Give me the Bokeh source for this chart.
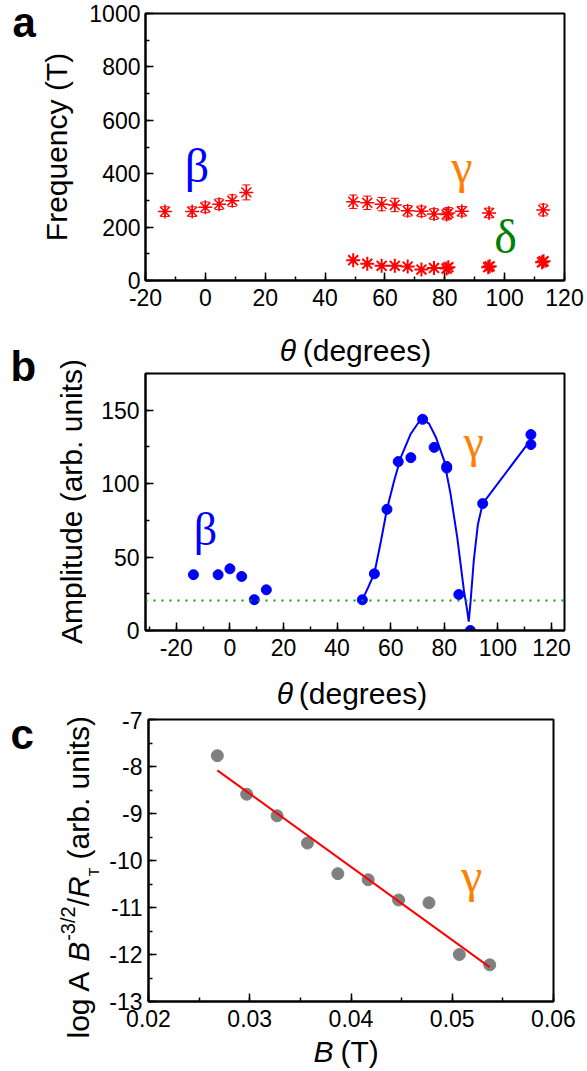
import numpy as np
from bokeh.plotting import figure
from bokeh.layouts import column, row
from bokeh.models import (Label, Range1d, SingleIntervalTicker, PrintfTickFormatter,
                          Whisker, ColumnDataSource, Span)
from bokeh.core.properties import value
from bokeh.embed import file_html
from bokeh.resources import INLINE

# ---------------- data ----------------
# panel a: frequencies vs angle
beta_theta = [-13.5, -4.4, 0.0, 4.6, 9.0, 13.7]
beta_freq = [258, 258, 274, 286, 299, 330]
beta_err = [18, 18, 20, 20, 22, 28]

gamma_theta = [49.4, 54.1, 58.9, 63.3, 67.6, 72.2, 76.4, 80.6, 81.2, 85.7, 94.8, 112.9]
gamma_freq = [295, 291, 286, 283, 261, 259, 249, 247, 253, 259, 253, 264]
gamma_err = [25, 25, 25, 25, 20, 20, 20, 20, 20, 18, 18, 22]

delta_theta = [49.4, 54.1, 58.9, 63.3, 67.6, 72.2, 76.4, 80.6, 81.2, 94.5, 95.0, 112.5, 113.0]
delta_freq = [76, 63, 55, 55, 52, 41, 47, 45, 50, 50, 53, 68, 72]

# panel b: amplitudes vs angle
amp_beta_theta = [-13.6, -4.4, 0.0, 4.4, 9.1, 13.6]
amp_beta = [38, 38, 42, 36.8, 21, 27.7]
amp_gamma_theta = [49.4, 53.9, 58.6, 62.8, 67.5, 71.9, 76.2, 80.9, 80.9, 85.4, 89.7, 94.3, 112.3, 112.3]
amp_gamma = [20.9, 38.6, 82.5, 115, 117.7, 143.8, 124.7, 111.7, 110.6, 24.5, 0, 86.4, 133.4, 126.6]
# guide curve through the gamma amplitudes
curve_theta = [49.4, 51.5, 53.9, 56.4, 58.6, 61.3, 63.8, 67.5, 70.5, 72.0, 74.3, 76.8,
               79.9, 82.3, 84.8, 87.3, 88.5, 89.1, 89.8, 91.0, 92.5, 94.3, 112.3]
curve_amp = [20.9, 29, 39, 61.3, 82.7, 102.2, 118, 134, 142, 143.5, 140.9, 131.8,
             115.9, 93.2, 63.6, 27.3, 14, 6, 20, 48, 72, 86.4, 130]
noise_level = 20.5

# panel c: log amplitude vs field
field_B = [0.0268, 0.0297, 0.0327, 0.0357, 0.0387, 0.0417, 0.0447, 0.0477, 0.0507, 0.0537]
log_amp = [-7.77, -8.59, -9.05, -9.63, -10.28, -10.41, -10.84, -10.90, -12.00, -12.22]

# ---------------- styling helpers ----------------
SANS = "Liberation Sans"
SERIF = "Liberation Serif"
TICK_PX = "23px"
LAB_PX = "30px"


def make_fig(w, h, xr, yr, bl, br, bt, bb):
    p = figure(width=w, height=h, x_range=Range1d(*xr), y_range=Range1d(*yr),
               output_backend="svg", toolbar_location=None, title=None,
               min_border_left=bl, min_border_right=br,
               min_border_top=bt, min_border_bottom=bb)
    p.xgrid.visible = False
    p.ygrid.visible = False
    p.outline_line_color = "black"
    p.outline_line_width = 2
    p.outline_line_alpha = 1
    p.background_fill_color = "white"
    p.border_fill_color = "white"
    for ax in (p.xaxis[0], p.yaxis[0]):
        ax.axis_line_width = 2
        ax.major_tick_in = 8
        ax.major_tick_out = 0
        ax.minor_tick_in = 4
        ax.minor_tick_out = 0
        ax.major_tick_line_width = 1.5
        ax.minor_tick_line_width = 1.5
        ax.major_label_text_font = SANS
        ax.major_label_text_font_size = TICK_PX
        ax.major_label_text_color = "black"
    p.yaxis[0].major_label_standoff = 6
    p.xaxis[0].major_label_standoff = 8
    return p


def greek(p, x, y, ch, size, color):
    p.text(x=[x], y=[y], text=[ch], text_font=value(SERIF), text_font_size=size,
           text_color=color, text_align="center", text_baseline="middle")


class Strip:
    """Axis-less figure holding texts that sit outside the plot frames.
    Its ranges are page pixels, so a text is placed at its page position
    (vertical centre of the text line)."""

    def __init__(self, page_left, page_top, w, h, bl=0, br=0):
        p = figure(width=w, height=h,
                   x_range=Range1d(page_left + bl, page_left + w - br),
                   y_range=Range1d(page_top + h, page_top),
                   output_backend="svg", toolbar_location=None, title=None,
                   x_axis_location=None, y_axis_location=None,
                   min_border_left=bl, min_border_right=br,
                   min_border_top=0, min_border_bottom=0)
        p.xgrid.visible = False
        p.ygrid.visible = False
        p.outline_line_color = None
        p.background_fill_color = "white"
        p.border_fill_color = "white"
        self.p = p

    def text(self, px, py, text, size, font=SANS, style="normal", color="black",
             align="left", angle=0.0):
        self.p.add_layout(Label(x=px, y=py, text=text,
                                text_font=font, text_font_size=size,
                                text_font_style=style, text_color=color,
                                text_align=align, text_baseline="middle",
                                angle=angle))


# ---------------- panel a ----------------
pa = make_fig(501, 315, (-20, 120), (0, 1000), 57, 23, 13, 35)
pa.yaxis[0].major_label_standoff = 5
pa.xaxis[0].ticker = SingleIntervalTicker(interval=20, num_minor_ticks=2)
pa.xaxis[0].formatter = PrintfTickFormatter(format="%d")
pa.yaxis[0].ticker = SingleIntervalTicker(interval=200, num_minor_ticks=2)
pa.yaxis[0].formatter = PrintfTickFormatter(format="%d")

for th, fr, er in ((beta_theta, beta_freq, beta_err), (gamma_theta, gamma_freq, gamma_err)):
    src = ColumnDataSource(dict(x=th, y=fr,
                                lo=[a - b for a, b in zip(fr, er)],
                                hi=[a + b for a, b in zip(fr, er)]))
    wk = Whisker(source=src, base="x", lower="lo", upper="hi",
                 line_color="red", line_width=1.2)
    wk.upper_head.size = 8
    wk.lower_head.size = 8
    wk.upper_head.line_color = "red"
    wk.lower_head.line_color = "red"
    pa.add_layout(wk)
    pa.scatter(th, fr, marker="asterisk", size=14, line_color="red", line_width=1.5)
pa.scatter(delta_theta, delta_freq, marker="asterisk", size=14, line_color="red", line_width=2)

greek(pa, -2.8, 432, "β", "48px", "#0000FF")
greek(pa, 85.7, 426, "γ", "48px", "#FF8000")
greek(pa, 100.3, 166, "δ", "48px", "#008000")

xlab_a = Strip(86, 315, 501, 57, 57, 23)
xlab_a.text(278, 349.5, "θ", LAB_PX, style="italic")
xlab_a.text(301, 349.5, "(degrees)", LAB_PX)

# ---------------- panel b ----------------
# frames in one column are aligned by Bokeh; the x range is widened so that
# -30 and 120 fall where they sit in the picture
pb = make_fig(501, 293, (-31.49, 124.83), (0, 175), 57, 23, 1, 35)
pb.xaxis[0].ticker = SingleIntervalTicker(interval=20, num_minor_ticks=2)
pb.xaxis[0].formatter = PrintfTickFormatter(format="%d")
pb.yaxis[0].ticker = SingleIntervalTicker(interval=50, num_minor_ticks=2)
pb.yaxis[0].formatter = PrintfTickFormatter(format="%d")

pb.add_layout(Span(location=noise_level, dimension="width", line_color="#00A000",
                   line_width=2, line_dash="2 6"))
pb.line(curve_theta, curve_amp, line_color="#0000FF", line_width=2)
pb.scatter(amp_beta_theta, amp_beta, marker="circle", size=10, fill_color="#0000FF",
           line_color="#0000FF")
pb.scatter(amp_gamma_theta, amp_gamma, marker="circle", size=10, fill_color="#0000FF",
           line_color="#0000FF")
greek(pb, -9.1, 68.5, "β", "46px", "#0000FF")
greek(pb, 90.9, 128.4, "γ", "46px", "#FF8000")

xlab_b = Strip(86, 665, 501, 46, 57, 23)
xlab_b.text(275, 693, "θ", LAB_PX, style="italic")
xlab_b.text(297, 693, "(degrees)", LAB_PX)

# left strips for panels a and b
left_a = Strip(0, 0, 86, 300)
left_a.text(12, 21.5, "a", "42px", style="bold")
left_a.text(55.5, 146.5, "Frequency (T)", LAB_PX, align="center", angle=np.pi / 2)
left_b = Strip(0, 300, 86, 411)
left_b.text(10, 365.5, "b", "42px", style="bold")
left_b.text(70.5, 501, "Amplitude (arb. units)", LAB_PX, align="center", angle=np.pi / 2)

# ---------------- panel c ----------------
pc = make_fig(487, 324, (0.02, 0.06), (-13, -7), 48, 34, 8, 34)
pc.xaxis[0].ticker = SingleIntervalTicker(interval=0.01, num_minor_ticks=2)
pc.xaxis[0].formatter = PrintfTickFormatter(format="%.2f")
pc.yaxis[0].ticker = SingleIntervalTicker(interval=1, num_minor_ticks=2)
pc.yaxis[0].formatter = PrintfTickFormatter(format="%d")

slope, icpt = np.polyfit(field_B, log_amp, 1)
fit_x = [min(field_B), max(field_B)]
fit_y = [slope * v + icpt for v in fit_x]
pc.scatter(field_B, log_amp, marker="circle", size=12, fill_color="#808080",
           line_color="#808080")
pc.line(fit_x, fit_y, line_color="#FF0000", line_width=2)
greek(pc, 0.0519, -10.31, "γ", "48px", "#FF8000")

xlab_c = Strip(100, 1035, 487, 36, 48, 34)
xlab_c.text(313, 1050.5, "B", LAB_PX, style="italic")
xlab_c.text(340, 1050.5, "(T)", LAB_PX)

left_c = Strip(0, 711, 100, 360)
left_c.text(10, 734, "c", "42px", style="bold")
ang = np.pi / 2
ys = 1038.0
left_c.text(77.5, ys, "log A", LAB_PX, angle=ang)
ys -= 76.7
left_c.text(77.5, ys, "B", LAB_PX, style="italic", angle=ang)
ys -= 21.0
left_c.text(67, ys, "-3/2", "20px", angle=ang)
ys -= 34.5
left_c.text(77.5, ys, "/", LAB_PX, angle=ang)
ys -= 8.3
left_c.text(77.5, ys, "R", LAB_PX, style="italic", angle=ang)
ys -= 21.7
left_c.text(93, ys, "T", "14px", angle=ang)
ys -= 8.6 + 8.3
left_c.text(77.5, ys, "(arb. units)", LAB_PX, angle=ang)

layout = column(
    row(column(left_a.p, left_b.p, spacing=0),
        column(pa, xlab_a.p, pb, xlab_b.p, spacing=0), spacing=0),
    row(left_c.p, column(pc, xlab_c.p, spacing=0), spacing=0),
    spacing=0)
open("out.html", "w").write(file_html(layout, INLINE))
